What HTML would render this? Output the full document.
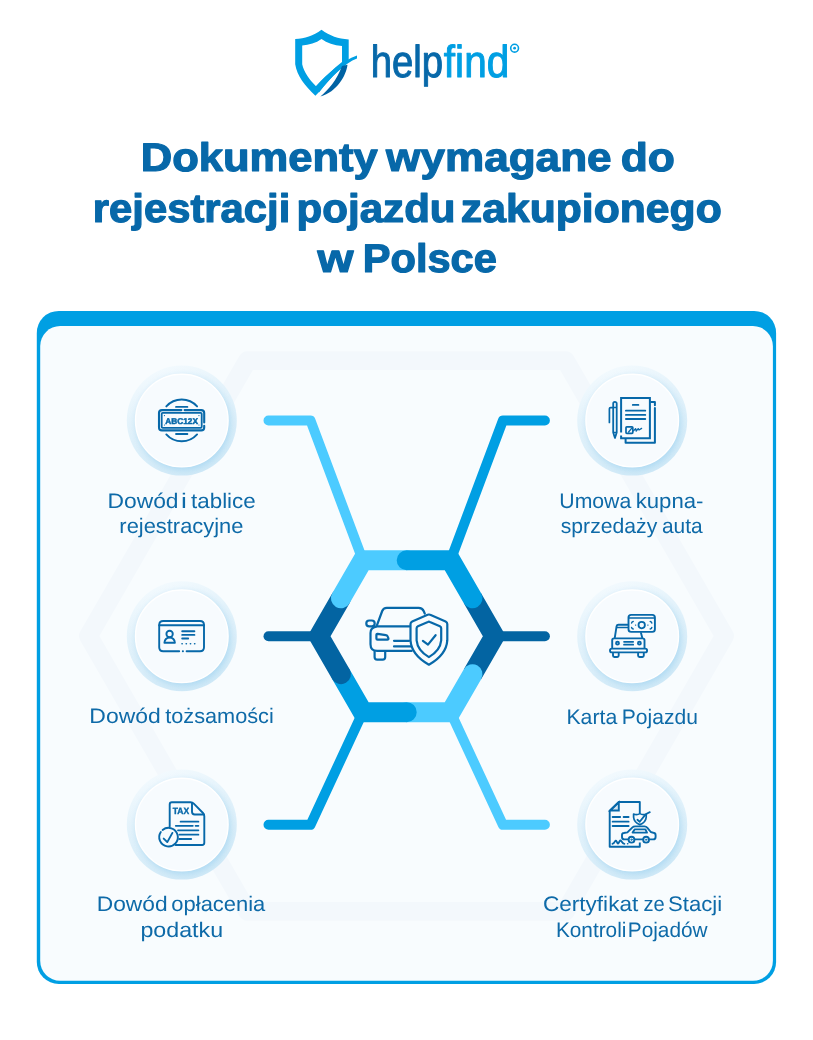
<!DOCTYPE html>
<html lang="pl">
<head>
<meta charset="utf-8">
<title>Dokumenty wymagane do rejestracji pojazdu zakupionego w Polsce</title>
<style>
  html, body { margin: 0; padding: 0; background: #ffffff; }
  body { width: 813px; height: 1040px; overflow: hidden; font-family: "Liberation Sans", sans-serif; }
  svg { will-change: transform; display: block; position: absolute; left: 0; top: 0; }
  text { font-family: "Liberation Sans", sans-serif; text-rendering: geometricPrecision; }
  .title { font-weight: 700; font-size: 40px; fill: #0768a9; stroke: #0768a9; stroke-width: 1.2px; stroke-linejoin: round; }
  .lg1 { font-size: 45px; fill: #0768a9; stroke: #0768a9; stroke-width: 1px; stroke-linejoin: round; }
  .lg2 { font-size: 45px; fill: #009fe3; stroke: #009fe3; stroke-width: 1px; stroke-linejoin: round; }
  .label { font-weight: 400; font-size: 21px; fill: #0e6aa8; }
</style>
</head>
<body>
<svg width="813" height="1040" viewBox="0 0 813 1040">
  <defs>
    <linearGradient id="ring" x1="0.32" y1="0" x2="0.68" y2="1">
      <stop offset="0" stop-color="#f3fafe"/>
      <stop offset="0.35" stop-color="#e4f3fb"/>
      <stop offset="1" stop-color="#cfe9f7"/>
    </linearGradient>
    <filter id="blur4" x="-30%" y="-30%" width="160%" height="160%"><feGaussianBlur stdDeviation="3.2"/></filter>
    <clipPath id="ringclip"><circle cx="0" cy="0" r="55"/></clipPath>
    <g id="badge">
      <circle cx="0" cy="0" r="55" fill="url(#ring)"/>
      <g clip-path="url(#ringclip)"><circle cx="1.6" cy="2.4" r="47" fill="#8fcbee" opacity="0.55" filter="url(#blur4)"/></g>
      <circle cx="0" cy="0" r="46.3" fill="#f7fbfe" stroke="#ffffff" stroke-width="1.4"/>
    </g>
  </defs>

  <!-- ===== LOGO ===== -->
  <g id="logo">
    <!-- shield -->
    <path d="M321.5 29.7 C 313 36, 305 38.5, 295.2 39 L295.2 64.3 C 297 76, 305 86, 315.4 95.8 L 319 92 C 327 82, 338 70, 348.7 62 L348.7 39.4 C 338 38.5, 330 36, 321.5 29.7 Z
             M321.5 39 C 316 43, 309 45, 302.2 45.5 L302.2 64.3 C 304 72, 309 79.5, 316 86.2 C 324 78, 333 69, 342 62 L342 46 C 334 45.5, 327 43, 321.5 39 Z"
          fill="#009fe3" fill-rule="evenodd"/>
    <!-- light swoosh -->
    <path d="M316 86.2 C 328 73, 342 61, 357 55.5 L357 58.5 C 345 63, 331 77, 319 92.5 Z" fill="#009fe3"/>
    <!-- dark swoosh -->
    <path d="M320.4 96.4 C 328 90, 337 80, 342 65.9 L 347.5 64.8 C 346 76, 337 92, 320.4 96.4 Z" fill="#0062a3"/>
    <!-- wordmark -->
    <circle cx="514.6" cy="48.2" r="3.9" fill="none" stroke="#009fe3" stroke-width="1.6"/>
    <circle cx="514.6" cy="48.2" r="1.4" fill="#009fe3"/>
  </g>

  <!-- ===== TITLE + LABELS (placed at end) ===== -->

  <!-- ===== CARD ===== -->
  <rect x="36.8" y="310.9" width="739.3" height="673.1" rx="22" ry="22" fill="#009fe3"/>
  <rect x="40.2" y="326.1" width="732.7" height="654.7" rx="20" ry="20" fill="#f8fcfe"/>

  <!-- faint background hexagon -->
  <clipPath id="cardclip"><rect x="40.2" y="326.1" width="732.7" height="654.7" rx="20" ry="20"/></clipPath>
  <g clip-path="url(#cardclip)">
    <polygon points="247.5,360.6 565.5,360.6 724.5,636 565.5,911.4 247.5,911.4 88.5,636"
             fill="none" stroke="#f3f8fc" stroke-width="18.8" stroke-linejoin="round"/>
  </g>

  <!-- ===== HEX ARMS ===== (draw order: R, BR, BL, L, TL, TR) -->
  <g fill="none" stroke-linecap="round" stroke-linejoin="miter">
    <!-- R dark -->
    <g stroke="#0364a2">
      <path d="M544.90 636.2 L494.40 636.2" stroke-width="10"/>
      <path d="M472.48 598.22 L494.40 636.20 L472.48 674.18" stroke-width="20" stroke-linecap="butt"/>
    </g>
    <!-- BR light -->
    <g stroke="#4ccbff">
      <path d="M544.90 824.8 L502.90 824.8 L450.55 712.15" stroke-width="10" stroke-linejoin="round"/>
      <path d="M472.48 674.18 L450.55 712.15 L406.70 712.15" stroke-width="20"/>
    </g>
    <!-- BL medium -->
    <g stroke="#009fe3">
      <path d="M268.5 824.8 L310.5 824.8 L362.85 712.15" stroke-width="10" stroke-linejoin="round"/>
      <path d="M406.70 712.15 L362.85 712.15 L340.92 674.18" stroke-width="20"/>
    </g>
    <!-- L dark -->
    <g stroke="#0364a2">
      <path d="M268.5 636.2 L319.00 636.2" stroke-width="10"/>
      <path d="M340.92 674.18 L319.00 636.20 L340.92 598.22" stroke-width="20"/>
    </g>
    <!-- TL light -->
    <g stroke="#4ccbff">
      <path d="M268.5 420.5 L310.5 420.5 L362.85 560.25" stroke-width="10" stroke-linejoin="round"/>
      <path d="M340.92 598.22 L362.85 560.25 L406.70 560.25" stroke-width="20"/>
    </g>
    <!-- TR medium -->
    <g stroke="#009fe3">
      <path d="M544.90 420.5 L502.90 420.5 L450.55 560.25" stroke-width="10" stroke-linejoin="round"/>
      <path d="M406.70 560.25 L450.55 560.25 L472.48 598.22" stroke-width="20"/>
    </g>
  </g>

  <!-- ===== BADGES ===== -->
  <use href="#badge" x="181.8" y="420.6"/>
  <use href="#badge" x="181.8" y="636.3"/>
  <use href="#badge" x="181.8" y="824.6"/>
  <use href="#badge" x="632.2" y="420.6"/>
  <use href="#badge" x="632.2" y="636.3"/>
  <use href="#badge" x="632.2" y="824.6"/>

  <!-- TEXT-BEGIN -->
  <text class="title" x="140.69" y="171.0" textLength="237.12" lengthAdjust="spacingAndGlyphs">Dokumenty</text>
  <text class="title" x="386.13" y="171.0" textLength="225.48" lengthAdjust="spacingAndGlyphs">wymagane</text>
  <text class="title" x="620.75" y="171.0" textLength="54.21" lengthAdjust="spacingAndGlyphs">do</text>
  <text class="title" x="92.83" y="221.8" textLength="197.43" lengthAdjust="spacingAndGlyphs">rejestracji</text>
  <text class="title" x="296.61" y="221.8" textLength="158.96" lengthAdjust="spacingAndGlyphs">pojazdu</text>
  <text class="title" x="460.87" y="221.8" textLength="260.84" lengthAdjust="spacingAndGlyphs">zakupionego</text>
  <text class="title" x="317.43" y="271.9" textLength="36.0" lengthAdjust="spacingAndGlyphs">w</text>
  <text class="title" x="362.74" y="271.9" textLength="134.14" lengthAdjust="spacingAndGlyphs">Polsce</text>
  <text class="lg1" x="370.74" y="77.3" textLength="72.35" lengthAdjust="spacingAndGlyphs">help</text>
  <text class="lg2" x="443.87" y="77.3" textLength="65.37" lengthAdjust="spacingAndGlyphs">find</text>
  <text class="label" x="107.53" y="507.5" textLength="71.03" lengthAdjust="spacingAndGlyphs">Dowód</text>
  <text class="label" x="180.99" y="507.5" textLength="5.86" lengthAdjust="spacingAndGlyphs">i</text>
  <text class="label" x="191.02" y="507.5" textLength="64.7" lengthAdjust="spacingAndGlyphs">tablice</text>
  <text class="label" x="119.39" y="532.5" textLength="124.01" lengthAdjust="spacingAndGlyphs">rejestracyjne</text>
  <text class="label" x="89.33" y="723.2" textLength="71.35" lengthAdjust="spacingAndGlyphs">Dowód</text>
  <text class="label" x="165.23" y="723.2" textLength="108.57" lengthAdjust="spacingAndGlyphs">tożsamości</text>
  <text class="label" x="96.74" y="911.0" textLength="70.82" lengthAdjust="spacingAndGlyphs">Dowód</text>
  <text class="label" x="171.37" y="911.0" textLength="93.91" lengthAdjust="spacingAndGlyphs">opłacenia</text>
  <text class="label" x="140.41" y="936.8" textLength="82.71" lengthAdjust="spacingAndGlyphs">podatku</text>
  <text class="label" x="559.32" y="507.6" textLength="71.92" lengthAdjust="spacingAndGlyphs">Umowa</text>
  <text class="label" x="635.65" y="507.6" textLength="67.8" lengthAdjust="spacingAndGlyphs">kupna-</text>
  <text class="label" x="560.72" y="532.5" textLength="96.52" lengthAdjust="spacingAndGlyphs">sprzedaży</text>
  <text class="label" x="661.91" y="532.5" textLength="40.73" lengthAdjust="spacingAndGlyphs">auta</text>
  <text class="label" x="566.46" y="723.5" textLength="50.79" lengthAdjust="spacingAndGlyphs">Karta</text>
  <text class="label" x="621.78" y="723.5" textLength="76.14" lengthAdjust="spacingAndGlyphs">Pojazdu</text>
  <text class="label" x="542.92" y="911.0" textLength="95.34" lengthAdjust="spacingAndGlyphs">Certyfikat</text>
  <text class="label" x="643.39" y="911.0" textLength="21.24" lengthAdjust="spacingAndGlyphs">ze</text>
  <text class="label" x="668.0" y="911.0" textLength="54.1" lengthAdjust="spacingAndGlyphs">Stacji</text>
  <text class="label" x="555.9" y="936.8" textLength="70.51" lengthAdjust="spacingAndGlyphs">Kontroli</text>
  <text class="label" x="627.8" y="936.8" textLength="79.82" lengthAdjust="spacingAndGlyphs">Pojadów</text>
  <!-- TEXT-END -->

  <!-- ===== ICONS ===== -->
  <g id="icons" fill="none" stroke="#0768a9" stroke-width="1.9" stroke-linecap="round" stroke-linejoin="round">

    <!-- 1: licence plate -->
    <g>
      <path d="M166.3 406.4 A20.6 20.6 0 0 1 197.1 406.4" stroke-width="1.9"/>
      <path d="M166.3 434.4 A20.6 20.6 0 0 0 197.1 434.4" stroke-width="1.9"/>
      <path d="M176 406.9 H187.4 M176 434 H187.4" stroke-width="1.8"/>
      <path d="M181.4 410.1 H162 Q159 410.1 159 413.1 V427.4 Q159 430.4 162 430.4 H201.2 Q204.2 430.4 204.2 427.4 V425.8 M204.2 422.4 V413.1 Q204.2 410.1 201.2 410.1 H184.6" stroke-width="2.1"/>
      <rect x="161.7" y="412.8" width="40" height="15" rx="1" stroke-width="1.8"/>
      <path d="M164.4 415.6 h0.1 M198.9 415.6 h0.1 M164.4 425 h0.1 M198.9 425 h0.1" stroke-width="1.1"/>
      <text x="165.3" y="423.7" font-size="8.4" font-weight="700" fill="#0768a9" stroke="#0768a9" stroke-width="0.5" textLength="32.6" lengthAdjust="spacingAndGlyphs">ABC12X</text>
    </g>

    <!-- 2: ID card -->
    <g>
      <path d="M179.2 651.2 H163.2 Q159.2 651.2 159.2 647.2 V625 Q159.2 621 163.2 621 H200 Q204 621 204 625 V647.2 Q204 651.2 200 651.2 H186.6"/>
      <path d="M182.8 651.2 h0.2"/>
      <path d="M159.2 625.2 H204"/>
      <circle cx="169.6" cy="634" r="3.2"/>
      <path d="M164.4 642.7 A5.25 5.25 0 0 1 174.9 642.7 Z"/>
      <path d="M182.2 631.3 H194.4 M182.2 634.9 H194.4 M182.2 638.5 H188.2"/>
      <path d="M182 643.8 h0.2 M186.2 643.8 h0.2 M190.4 643.8 h0.2 M194.6 643.8 h0.2" stroke-width="1.6"/>
    </g>

    <!-- 3: TAX document -->
    <g>
      <path d="M169.7 826.6 V804.4 Q169.7 802.2 171.9 802.2 H190.6 Q192.4 802.2 193.8 803.6 L203 813 Q204.3 814.4 204.3 816.2 V842.8 Q204.3 845 202.1 845 H175.6"/>
      <path d="M192 802.9 V811.8 Q192 814.5 194.7 814.5 H203.6"/>
      <path d="M162.6 830 A9.3 9.3 0 1 1 160.8 832" />
      <path d="M163.7 838.6 L167.3 842.1 L172.4 832.9"/>
      <path d="M180.6 821.7 H198.4 M175.8 825.8 H192.8 M195.6 825.8 H198.4 M178 830.3 H198.4 M179.4 834.7 H198.4 M179.2 839 H191.2" stroke-width="1.8"/>
      <text x="172.7" y="813.7" font-size="9.2" font-weight="700" fill="#0768a9" stroke="#0768a9" stroke-width="0.4" textLength="16.4" lengthAdjust="spacingAndGlyphs">TAX</text>
    </g>

    <!-- 4: contract + pen -->
    <g stroke-linejoin="miter" stroke-linecap="butt">
      <path d="M621.1 432.6 V398 H649.9 V438.2 H621.1 V435.6" stroke-width="2"/>
      <path d="M651.2 402 H654.9 V405.2 M654.9 408 V442.8 H625.6 V439.2" stroke-width="2" stroke-linecap="round" stroke-linejoin="round"/>
      <path d="M632.8 404.9 H638.4 M625.9 410.7 H645.3 M625.9 414.9 H645.3 M625.9 419 H645.3" stroke-width="1.8" stroke-linecap="round"/>
      <rect x="626" y="426.8" width="6.8" height="6.6" rx="0.8" stroke-width="1.7"/>
      <path d="M628.6 432 L631.8 428.2" stroke-width="1.3" stroke-linecap="round"/>
      <path d="M633.6 430.8 L635.6 428.6 L636.2 431 L638.2 428.6 L639 430 L641.6 428.4" stroke-width="1.3" stroke-linecap="round" stroke-linejoin="round"/>
      <!-- pen -->
      <path d="M613.2 432.4 V403.6 A1.75 1.75 0 0 1 616.7 403.6 V432.4 L614.95 438 Z" stroke-width="1.8" stroke-linejoin="round"/>
      <path d="M613.2 407.6 H616.7 M613.2 432.4 H616.7" stroke-width="1.5"/>
      <path d="M612.6 407.6 H610.6 Q609.4 407.6 609.4 408.8 V422.4" stroke-width="1.7" stroke-linecap="round"/>
      <path d="M614.95 438 L614.2 435.6 H615.7 Z" stroke-width="1" fill="#0768a9"/>
    </g>

    <!-- 5: car + banknote -->
    <g>
      <path d="M627.4 624.7 H618.4 Q616.9 624.7 616.6 626.2 L614.8 637.6"/>
      <path d="M617 627.5 H627.4" stroke-width="1.4"/>
      <path d="M641 633 L642.2 637.6"/>
      <path d="M612.2 647.6 V640.3 Q612.2 638.4 614.1 638.4 H642.6 Q644.5 638.4 644.5 640.3 V647.6"/>
      <rect x="610" y="648.6" width="37.1" height="3.8" rx="1.9"/>
      <path d="M613 653.4 V655.6 Q613 657 614.4 657 H617.3 Q618.7 657 618.7 655.6 V653.4 M638.1 653.4 V655.6 Q638.1 657 639.5 657 H642.4 Q643.8 657 643.8 655.6 V653.4"/>
      <circle cx="617.5" cy="643.2" r="1.55" stroke-width="1.7" fill="#0768a9" fill-opacity="0.5"/>
      <circle cx="639.4" cy="643.2" r="1.55" stroke-width="1.7" fill="#0768a9" fill-opacity="0.5"/>
      <path d="M624 641.8 H633.2 M624 644.7 H633.2" stroke-width="1.7"/>
      <rect x="628.5" y="614.9" width="26.4" height="17" rx="2.6"/>
      <path d="M629 617.9 H654.4" stroke-width="1.5"/>
      <circle cx="641.7" cy="625.1" r="3.2" stroke-width="1.8"/>
      <path d="M631.6 623 Q631.8 621.6 633.2 621.4 M650.2 621.4 Q651.6 621.6 651.8 623 M631.6 627.4 Q631.8 628.8 633.2 629 M650.2 629 Q651.6 628.8 651.8 627.4" stroke-width="1.5"/>
      <path d="M635.5 625.1 h0.2 M647.8 625.1 h0.2" stroke-width="1.3"/>
    </g>

    <!-- 6: certificate + shield + car -->
    <g>
      <path d="M639.8 813.6 V802 H618.7 L609.7 810.6 V846.8 H639.8 V842.6" stroke-linejoin="round" stroke-linecap="butt"/>
      <path d="M618.8 802.4 V810.5 H610.2 Z" stroke-linejoin="miter" fill="#0768a9" fill-opacity="0.15"/>
      <path d="M612.6 817 H620.2 M623.6 817 H628.6 M612.6 821.7 H628.6 M612.6 826 H628.6" stroke-width="1.8"/>
      <path d="M612.4 843.8 Q614 843.4 615 841.4 Q615.8 839.8 616.6 841.4 L617.4 843 Q618 844 618.6 843 L619.6 841.2 Q620.4 839.8 621.4 841.2 Q622.8 843.6 624.4 843.8" stroke-width="1.8"/>
      <path d="M627.6 843.7 h0.2" stroke-width="1.6"/>
      <!-- shield -->
      <path d="M633.6 814 Q637 815.4 639.9 813.6 Q642.8 815.4 646.2 814 V817.2 Q645.8 822.4 639.9 824.6 Q634 822.4 633.6 817.2 Z" stroke-width="1.7"/>
      <path d="M637.4 819.8 L639.7 821.8 L644.6 815.6 Q647 813.2 649.8 812.2" stroke-width="1.8"/>
      <!-- car -->
      <path d="M628.2 839.4 H624.4 Q622 839.4 622 837 V835 Q622 833.2 623.8 833 L627.4 832.4 L632.2 827.6 Q633.4 826.4 635.2 826.4 H644.4 Q646.2 826.4 647.4 827.8 L650.8 832 L653.6 832.8 Q655.6 833.2 655.6 835.2 V837 Q655.6 839.4 653.2 839.4 H649.6 M634.8 839.4 H642.8"/>
      <path d="M634.6 829.4 H645.4 L647 832.6 H632.6 Z" stroke-width="1.9"/>
      <circle cx="631.5" cy="839.7" r="2.9"/>
      <circle cx="646.1" cy="839.7" r="2.9"/>
      <circle cx="631.5" cy="839.7" r="0.7" stroke-width="0.9"/>
      <circle cx="646.1" cy="839.7" r="0.7" stroke-width="0.9"/>
    </g>

    <!-- center: car + shield -->
    <g stroke-width="2.2">
      <path d="M377 625.2 L382.2 611 Q383.4 607.9 386.8 607.9 H418.6 Q422.4 607.9 423.8 611.2 L424.8 613.6"/>
      <path d="M376.4 626.4 H409.4"/>
      <rect x="366.3" y="620.5" width="8.4" height="5.8" rx="2.9"/>
      <path d="M376 626.6 Q370.5 627.6 370.5 633 V644.2 Q370.5 650.8 377.2 650.8 H411.8"/>
      <path d="M377.6 633.8 L385.8 635.2 Q387.4 635.5 387.9 637 L388.4 638.4 Q388.6 639.6 387.4 639.6 H377.6 Q376.4 639.6 376.4 638.4 V635 Q376.4 633.6 377.6 633.8 Z"/>
      <path d="M394 640.8 H409.2 M394 646.4 H410.6"/>
      <path d="M374.6 651.8 V657 Q374.6 659.6 377.2 659.6 H382.6 Q385.2 659.6 385.2 657 V651.8"/>
      <path d="M427.6 614.8 Q428.9 614.2 430.2 614.8 L445.6 621.4 Q447.3 622.2 447.3 624 V640.4 Q446.3 655 428.9 664.7 Q411.5 655 410.5 640.4 V624 Q410.5 622.2 412.2 621.4 Z" fill="#f8fcfe"/>
      <path d="M427.9 621.9 Q428.9 621.4 429.9 621.9 L439.9 626.2 Q441.2 626.8 441.2 628.2 V640.4 Q440.3 650.6 428.9 657.1 Q417.5 650.6 416.6 640.4 V628.2 Q416.6 626.8 417.9 626.2 Z"/>
      <path d="M422.9 640.8 L428 644.6 L435.6 635.2"/>
    </g>
  </g>
</svg>
</body>
</html>
